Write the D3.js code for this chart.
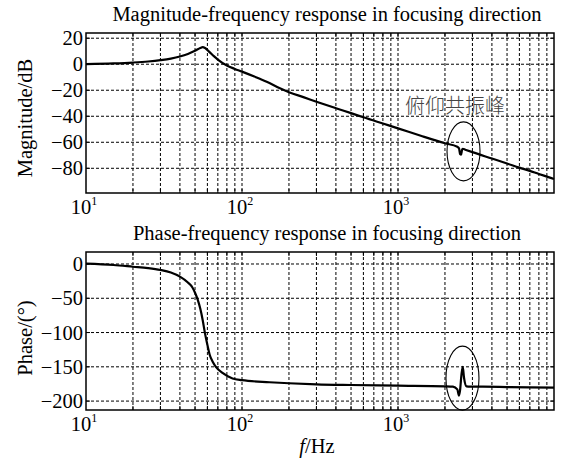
<!DOCTYPE html>
<html>
<head>
<meta charset="utf-8">
<script src="https://cdn.jsdelivr.net/npm/d3@7"></script>
<style>
  body { margin: 0; background: #fff; }
  svg { display: block; }
  .grid line { stroke: #000; stroke-width: 1; stroke-dasharray: 3,2; }
  .frame { fill: none; stroke: #000; stroke-width: 1.5; }
  .curve { fill: none; stroke: #000; stroke-width: 2.2; stroke-linejoin: round; }
  text { font-family: "Liberation Serif", "Times New Roman", serif; fill: #000; }
</style>
</head>
<body>
<svg id="chart" width="565" height="462"></svg>
<script>
// values
const magFreq = [10, 15, 20, 25, 30, 35, 40, 45, 50, 54, 56, 58, 62, 66, 70, 80, 90, 100, 120, 144, 175, 200, 250, 300, 400, 500, 600, 800, 1000, 1400, 2000, 2400, 2460, 2500, 2540, 2570, 2600, 2700, 3000, 4000, 5000, 6000, 7000, 8000, 9000, 10000];
const magDb   = [0, 0.6, 1.3, 2.1, 3.1, 4.3, 5.9, 7.9, 10.3, 12.5, 13.2, 12.5, 9.3, 6.2, 3.6, -1, -3.6, -5.7, -9.5, -13.5, -18.5, -21.5, -25.5, -28.8, -33.8, -37.6, -40.8, -45.6, -49.3, -55, -60.8, -63.5, -64.6, -69, -69.5, -66, -65, -65.7, -67.6, -72.5, -76.3, -79.5, -82, -84.4, -86.4, -88.2];

const phaseFreq = [10, 15, 20, 25, 30, 35, 40, 45, 48, 50, 52, 54, 56, 58, 60, 62, 65, 68, 75, 87, 100, 150, 200, 300, 500, 1000, 2000, 2250, 2400, 2460, 2500, 2550, 2600, 2650, 2750, 2900, 3500, 5000, 7000, 10000];
const phaseDeg  = [0.5, -1.5, -4, -6, -8.7, -12.5, -18.5, -27, -34, -42, -52, -65, -82, -102, -118, -132, -143, -150, -159, -167, -169.5, -172.5, -174, -175.5, -176.5, -177.5, -178.5, -179, -183, -192, -184, -162, -150, -166, -178.5, -179, -179, -179.5, -180, -180.5];

const magTicks = [20, 0, -20, -40, -60, -80];
const phaseTicks = [0, -50, -100, -150, -200];
const decadeTicks = [1, 2, 3]; // exponents labelled on the x axis

const left = 86, right = 554;
const svg = d3.select("#chart");

const x = d3.scaleLog().domain([10, 10000]).range([left, right]);
// every 1..9 x decade, inside the frame
const gridFreqs = [];
[10, 100, 1000].forEach(dec => { for (let k = 1; k < 10; k++) gridFreqs.push(dec * k); });
const xGrid = gridFreqs.filter(f => f > 10 && f < 10000);

function minus(v) { return String(v).replace("-", "\u2212"); }

function panel(opt) {
    const y = d3.scaleLinear().domain(opt.yDomain).range([opt.bottom, opt.top]);
    const g = svg.append("g");

    const grid = g.append("g").attr("class", "grid");
    grid.selectAll(".gx").data(xGrid).enter().append("line")
        .attr("x1", d => x(d)).attr("x2", d => x(d))
        .attr("y1", opt.top).attr("y2", opt.bottom);
    grid.selectAll(".gy").data(opt.ticks).enter().append("line")
        .attr("x1", left).attr("x2", right)
        .attr("y1", d => y(d)).attr("y2", d => y(d));

    // small inward ticks like matlab
    const tk = g.append("g").attr("stroke", "#000").attr("stroke-width", 1);
    xGrid.forEach(f => {
        tk.append("line").attr("x1", x(f)).attr("x2", x(f)).attr("y1", opt.bottom).attr("y2", opt.bottom - 4);
        tk.append("line").attr("x1", x(f)).attr("x2", x(f)).attr("y1", opt.top).attr("y2", opt.top + 4);
    });
    opt.ticks.forEach(v => {
        tk.append("line").attr("x1", left).attr("x2", left + 4).attr("y1", y(v)).attr("y2", y(v));
        tk.append("line").attr("x1", right).attr("x2", right - 4).attr("y1", y(v)).attr("y2", y(v));
    });

    const line = d3.line().curve(d3.curveMonotoneX).x(d => x(d[0])).y(d => y(d[1]));
    g.append("path").attr("class", "curve")
        .datum(d3.zip(opt.freq, opt.values))
        .attr("d", line);

    g.append("rect").attr("class", "frame")
        .attr("x", left).attr("y", opt.top)
        .attr("width", right - left).attr("height", opt.bottom - opt.top);

    // y tick labels
    g.selectAll(".yl").data(opt.ticks).enter().append("text")
        .attr("x", left - 3).attr("y", d => y(d))
        .attr("dy", "0.35em").attr("text-anchor", "end")
        .style("font-size", "20.5px")
        .text(d => minus(d));

    // x tick labels 10^n
    decadeTicks.forEach(p => {
        const t = g.append("text")
            .attr("x", x(Math.pow(10, p)) - 2).attr("y", opt.bottom + 21)
            .attr("text-anchor", "middle").style("font-size", "20.5px");
        t.append("tspan").text("10");
        t.append("tspan").attr("dy", -9).style("font-size", "12px").text(p);
    });

    g.append("text")
        .attr("x", 327).attr("y", opt.top - 12)
        .attr("text-anchor", "middle").style("font-size", "20.5px")
        .text(opt.title);

    g.append("text")
        .attr("transform", "translate(32," + opt.labelY + ") rotate(-90)")
        .attr("text-anchor", "middle").style("font-size", "20.5px")
        .text(opt.yLabel);

    // circled resonance
    g.append("ellipse")
        .attr("cx", x(opt.ring[0])).attr("cy", y(opt.ring[1]))
        .attr("rx", 16.5).attr("ry", opt.ring[2])
        .attr("fill", "none").attr("stroke", "#000").attr("stroke-width", 1.1);
    return y;
}

const yMag = panel({
    top: 33, bottom: 193, yDomain: [-99, 24], ticks: magTicks,
    freq: magFreq, values: magDb,
    title: "Magnitude-frequency response in focusing direction",
    yLabel: "Magnitude/dB", labelY: 118,
    ring: [2630, -67, 29.5]
});

panel({
    top: 252, bottom: 410, yDomain: [-213, 17.5], ticks: phaseTicks,
    freq: phaseFreq, values: phaseDeg,
    title: "Phase-frequency response in focusing direction",
    yLabel: "Phase/(\u00b0)", labelY: 338,
    ring: [2590, -166.5, 32]
});

svg.append("text")
    .attr("x", x(1110)).attr("y", yMag(-37.5))
    .style("font-family", "'Noto Sans CJK SC', sans-serif")
    .style("font-size", "20px").style("font-weight", 300)
    .style("fill", "#444")
    .text("俯仰共振峰");

const xl = svg.append("text")
    .attr("x", 317).attr("y", 453)
    .attr("text-anchor", "middle").style("font-size", "20.5px");
xl.append("tspan").style("font-style", "italic").text("f");
xl.append("tspan").text("/Hz");
</script>
</body>
</html>
